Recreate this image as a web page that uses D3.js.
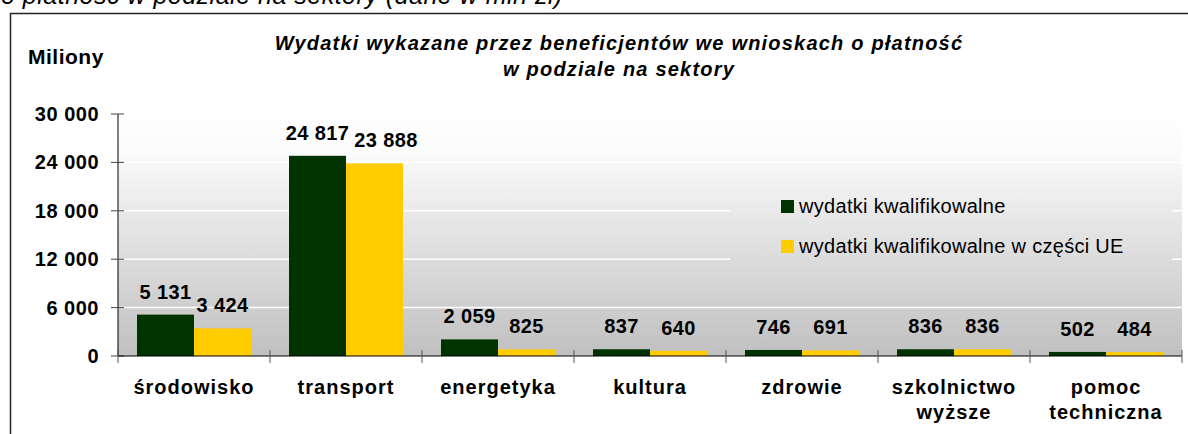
<!DOCTYPE html>
<html>
<head>
<meta charset="utf-8">
<script src="https://cdn.jsdelivr.net/npm/d3@7"></script>
<style>
	body { margin: 0; background: #fff; }
	text { font-family: Arial, "Liberation Sans", sans-serif; fill: #000; }
</style>
</head>
<body>
<svg id="barchart"></svg>
<script>
// dane w mln zł
const categories = ['środowisko', 'transport', 'energetyka', 'kultura', 'zdrowie', 'szkolnictwo wyższe', 'pomoc techniczna'];
const seriesNames = ['wydatki kwalifikowalne', 'wydatki kwalifikowalne w części UE'];
const kwalifikowalne = [5131, 24817, 2059, 837, 746, 836, 502];
const czescUE = [3424, 23888, 825, 640, 691, 836, 484];
const yTicks = [0, 6000, 12000, 18000, 24000, 30000];
const titleLines = ['Wydatki wykazane przez beneficjentów we wnioskach o płatność', 'w podziale na sektory'];
const captionText = 'o płatność w podziale na sektory (dane w mln zł)';

function makeChart() {
	let w = 1188;
	let h = 434;
	let left = 118, right = 1182, top = 114, bottom = 356;

	let colors = ['#003300', '#ffcc00'];
	let pl = d3.formatLocale({ decimal: ',', thousands: ' ', grouping: [3] });
	let fmt = pl.format(',d');

	let chart = d3.select('#barchart')
		.attr('width', w)
		.attr('height', h);

	let grad = chart.append('defs').append('linearGradient')
		.attr('id', 'bg')
		.attr('gradientUnits', 'userSpaceOnUse')
		.attr('x1', 0).attr('y1', top)
		.attr('x2', 0).attr('y2', bottom);
	grad.append('stop').attr('offset', '0%').attr('stop-color', '#ffffff');
	grad.append('stop').attr('offset', '15%').attr('stop-color', '#fbfbfb');
	grad.append('stop').attr('offset', '100%').attr('stop-color', '#c0c0c0');

	// tekst nad wykresem (ucięty u góry, jak w oryginale)
	chart.append('text')
		.attr('x', 1)
		.attr('y', 4)
		.style('font-size', '25px')
		.style('font-style', 'italic')
		.style('letter-spacing', '0.5px')
		.text(captionText);

	// ramka wykresu
	chart.append('rect')
		.attr('x', 10.5).attr('y', 13.5)
		.attr('width', 1300).attr('height', 600)
		.style('fill', 'none')
		.style('stroke', '#222')
		.style('stroke-width', 1.5);

	let x0 = d3.scaleBand().domain(categories).range([left, right]);
	let x1 = d3.scaleBand().domain(seriesNames).range([0, x0.bandwidth()]).paddingOuter(1 / 3);
	let y = d3.scaleLinear().domain([0, 30000]).range([bottom, top]);

	chart.append('rect')
		.attr('x', left).attr('y', top)
		.attr('width', right - left).attr('height', bottom - top)
		.style('fill', 'url(#bg)');

	chart.selectAll('.grid')
		.data(yTicks.slice(1))
		.enter()
		.append('line')
		.classed('grid', true)
		.attr('x1', left).attr('x2', right)
		.attr('y1', d => y(d)).attr('y2', d => y(d))
		.style('stroke', '#fff')
		.style('stroke-width', 1.5);

	// legenda zasłania linie siatki
	let legend = chart.append('g');
	legend.append('rect')
		.attr('x', 730).attr('y', 178)
		.attr('width', 442).attr('height', 100)
		.style('fill', 'url(#bg)');
	let items = legend.selectAll('.item')
		.data(seriesNames)
		.enter()
		.append('g')
		.attr('transform', (d, i) => `translate(781, ${200 + i * 40})`);
	items.append('rect')
		.attr('width', 13).attr('height', 13)
		.style('fill', (d, i) => colors[i]);
	items.append('text')
		.attr('x', 18)
		.attr('y', 13)
		.style('font-size', '20px')
		.style('letter-spacing', '0.3px')
		.text(d => d);

	let data = categories.map((c, i) => ({ cat: c, vals: [kwalifikowalne[i], czescUE[i]] }));

	let groups = chart.selectAll('.group')
		.data(data)
		.enter()
		.append('g')
		.attr('transform', d => `translate(${x0(d.cat)},0)`);

	groups.selectAll('rect')
		.data(d => d.vals.map((v, i) => ({ s: seriesNames[i], v: v, i: i })))
		.enter()
		.append('rect')
		.attr('x', d => x1(d.s))
		.attr('y', d => y(d.v))
		.attr('width', x1.bandwidth())
		.attr('height', d => bottom - y(d.v))
		.style('fill', d => colors[d.i]);

	groups.each(function (d) {
		let g = d3.select(this);
		let labels = d.vals.map((v, i) => g.append('text')
			.attr('x', x1(seriesNames[i]) + x1.bandwidth() / 2)
			.attr('y', y(v) - 16)
			.style('font-size', '20px')
			.style('font-weight', 'bold')
			.style('letter-spacing', '0.4px')
			.style('text-anchor', 'middle')
			.text(fmt(v)));
		// przesunięcie nachodzących etykiet
		let a = labels[0].node().getBBox();
		let b = labels[1].node().getBBox();
		if (a.x + a.width + 4 > b.x) {
			labels[1].attr('x', a.x + a.width + 5 + b.width / 2);
		}
	});

	// oś Y
	chart.append('line')
		.attr('x1', left).attr('x2', left)
		.attr('y1', top).attr('y2', bottom)
		.style('stroke', '#000');
	chart.selectAll('.ytick')
		.data(yTicks)
		.enter()
		.append('line')
		.attr('x1', left - 7).attr('x2', left + 6)
		.attr('y1', d => y(d)).attr('y2', d => y(d))
		.style('stroke', '#444');
	chart.selectAll('.ylab')
		.data(yTicks)
		.enter()
		.append('text')
		.attr('x', 99)
		.attr('y', d => y(d) + 7)
		.style('font-size', '20px')
		.style('font-weight', 'bold')
		.style('letter-spacing', '0.5px')
		.style('text-anchor', 'end')
		.text(d => fmt(d));

	// oś X
	chart.append('line')
		.attr('x1', left).attr('x2', right)
		.attr('y1', bottom).attr('y2', bottom)
		.style('stroke', '#000');
	chart.selectAll('.xtick')
		.data(categories.concat(['end']))
		.enter()
		.append('line')
		.attr('x1', (d, i) => left + i * x0.step())
		.attr('x2', (d, i) => left + i * x0.step())
		.attr('y1', bottom - 6).attr('y2', bottom + 7)
		.style('stroke', '#555');

	let xl = chart.selectAll('.xlab')
		.data(categories)
		.enter()
		.append('text')
		.attr('y', 394)
		.style('font-size', '20px')
		.style('font-weight', 'bold')
		.style('letter-spacing', '1px')
		.style('text-anchor', 'middle');
	xl.selectAll('tspan')
		.data(d => d.split(' ').map(t => ({ t: t, x: x0(d) + x0.bandwidth() / 2 })))
		.enter()
		.append('tspan')
		.attr('x', d => d.x)
		.attr('dy', (d, i) => i ? 25 : 0)
		.text(d => d.t);

	// tytuły
	chart.append('text')
		.attr('x', 28).attr('y', 64)
		.style('font-size', '21px')
		.style('font-weight', 'bold')
		.style('letter-spacing', '0.5px')
		.text('Miliony');

	chart.selectAll('.title')
		.data(titleLines)
		.enter()
		.append('text')
		.attr('x', 619)
		.attr('y', (d, i) => 50 + i * 26)
		.style('font-size', '20px')
		.style('font-weight', 'bold')
		.style('font-style', 'italic')
		.style('letter-spacing', '1.2px')
		.style('text-anchor', 'middle')
		.text(d => d);
}

window.onload = function () {
	makeChart();
}
</script>
</body>
</html>
